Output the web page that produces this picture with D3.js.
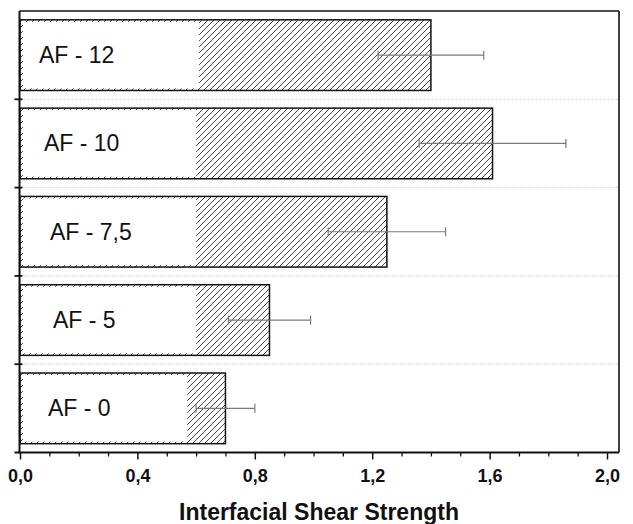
<!DOCTYPE html>
<html>
<head>
<meta charset="utf-8">
<script src="https://cdn.jsdelivr.net/npm/d3@7"></script>
<style>
  html, body { margin: 0; padding: 0; background: #fff; }
  svg { display: block; }
</style>
</head>
<body>
<svg id="chart" width="633" height="524"></svg>
<script>
// ---- data ----
const categories = ["AF - 12", "AF - 10", "AF - 7,5", "AF - 5", "AF - 0"];
const strength   = [1.40, 1.61, 1.25, 0.85, 0.70];
const errors     = [0.18, 0.25, 0.20, 0.14, 0.10];
const labelBoxEnd = [0.61, 0.60, 0.60, 0.60, 0.57];
const xTicks     = [0.0, 0.4, 0.8, 1.2, 1.6, 2.0];
const xTickLabels = ["0,0", "0,4", "0,8", "1,2", "1,6", "2,0"];
const xMinorTicks = [0.1,0.2,0.3,0.5,0.6,0.7,0.9,1.0,1.1,1.3,1.4,1.5,1.7,1.8,1.9];
const axisTitle = "Interfacial Shear Strength";

// ---- layout ----
const labelDx = [19, 24, 30, 33, 28];
const plot = { left: 19.5, right: 619, top: 11, bottom: 452.5 };

const svg = d3.select("#chart");

const x = d3.scaleLinear().domain([0, 2.0]).range([20, 607]);
const y = d3.scaleBand().domain(categories).range([plot.top, plot.bottom])
  .paddingInner(0.2).paddingOuter(0.1);

// hatch pattern
const defs = svg.append("defs");
const pat = defs.append("pattern")
  .attr("id", "hatch").attr("patternUnits", "userSpaceOnUse")
  .attr("width", 6).attr("height", 6);
pat.append("rect").attr("width", 6).attr("height", 6).attr("fill", "#fff");
pat.append("path")
  .attr("d", "M0,6 L6,0 M-1.5,1.5 L1.5,-1.5 M4.5,7.5 L7.5,4.5")
  .attr("stroke", "#333").attr("stroke-width", 0.9);

// gridlines at category boundaries
const boundaries = d3.range(1, categories.length).map(i => plot.top + (plot.bottom - plot.top) * i / categories.length);
svg.append("g").selectAll("line").data(boundaries).join("line")
  .attr("x1", plot.left).attr("x2", plot.right)
  .attr("y1", d => d).attr("y2", d => d)
  .attr("stroke", "#d0d0d0").attr("stroke-width", 1)
  .attr("stroke-dasharray", "2,2");

// bars
const data = categories.map((c, i) => ({ c, v: strength[i], e: errors[i], box: labelBoxEnd[i], dx: labelDx[i] }));

const bars = svg.append("g");
bars.selectAll("rect.bar").data(data).join("rect")
  .attr("class", "bar")
  .attr("x", x(0))
  .attr("y", d => y(d.c))
  .attr("width", d => x(d.v) - x(0))
  .attr("height", y.bandwidth())
  .attr("fill", "url(#hatch)")
  .attr("stroke", "#111").attr("stroke-width", 1.5);

// white label boxes
bars.selectAll("rect.box").data(data).join("rect")
  .attr("class", "box")
  .attr("x", x(0) + 3)
  .attr("y", d => y(d.c) + 2)
  .attr("width", d => x(d.box) - x(0) - 3)
  .attr("height", y.bandwidth() - 4)
  .attr("fill", "#fff");

// labels
bars.selectAll("text.lab").data(data).join("text")
  .attr("class", "lab")
  .attr("x", d => x(0) + d.dx)
  .attr("y", d => y(d.c) + y.bandwidth() / 2 + 8)
  .attr("font-family", "Liberation Sans, Arial, sans-serif")
  .attr("font-size", 23)
  .attr("fill", "#111")
  .text(d => d.c);

// error bars
const eb = svg.append("g").attr("stroke", "#7a7a7a").attr("stroke-width", 1.2).attr("fill", "none");
data.forEach(d => {
  const cy = y(d.c) + y.bandwidth() / 2;
  eb.append("line").attr("x1", x(d.v - d.e)).attr("x2", x(d.v + d.e)).attr("y1", cy).attr("y2", cy);
  eb.append("line").attr("x1", x(d.v - d.e)).attr("x2", x(d.v - d.e)).attr("y1", cy - 4.5).attr("y2", cy + 4.5);
  eb.append("line").attr("x1", x(d.v + d.e)).attr("x2", x(d.v + d.e)).attr("y1", cy - 4.5).attr("y2", cy + 4.5);
});

// frame
svg.append("line").attr("x1", plot.left).attr("x2", plot.right).attr("y1", plot.top).attr("y2", plot.top)
  .attr("stroke", "#111").attr("stroke-width", 1.6);
svg.append("line").attr("x1", plot.right).attr("x2", plot.right).attr("y1", plot.top).attr("y2", plot.bottom)
  .attr("stroke", "#111").attr("stroke-width", 1.6);

// x axis
const xAxis = svg.append("g").attr("transform", `translate(0,${plot.bottom})`);
xAxis.call(d3.axisBottom(x).tickValues(xTicks).tickSize(7).tickSizeOuter(0)
  .tickFormat((d, i) => xTickLabels[i]));
xAxis.select(".domain").remove();
xAxis.selectAll(".tick line").attr("stroke", "#111").attr("stroke-width", 1.5);
xAxis.selectAll(".tick text")
  .attr("font-family", "Liberation Sans, Arial, sans-serif")
  .attr("font-size", 18).attr("font-weight", "bold").attr("fill", "#111")
  .attr("dy", 0).attr("y", 29.5);
const xMinor = svg.append("g").attr("transform", `translate(0,${plot.bottom})`);
xMinor.call(d3.axisBottom(x).tickValues(xMinorTicks).tickSize(4).tickSizeOuter(0).tickFormat(""));
xMinor.select(".domain").remove();
xMinor.selectAll(".tick line").attr("stroke", "#111").attr("stroke-width", 1.3);
svg.append("line").attr("x1", plot.left - 5).attr("x2", plot.right).attr("y1", plot.bottom).attr("y2", plot.bottom)
  .attr("stroke", "#111").attr("stroke-width", 2);

// y axis
svg.append("line").attr("x1", plot.left).attr("x2", plot.left).attr("y1", plot.top).attr("y2", plot.bottom + 1)
  .attr("stroke", "#111").attr("stroke-width", 2);
svg.append("g").selectAll("line").data(boundaries).join("line")
  .attr("x1", plot.left - 5).attr("x2", plot.left + 3)
  .attr("y1", d => d).attr("y2", d => d)
  .attr("stroke", "#111").attr("stroke-width", 1.8);

// axis title
svg.append("text")
  .attr("x", 319).attr("y", 520)
  .attr("text-anchor", "middle")
  .attr("font-family", "Liberation Sans, Arial, sans-serif")
  .attr("font-size", 23).attr("font-weight", "bold").attr("fill", "#111")
  .text(axisTitle);
</script>
</body>
</html>
